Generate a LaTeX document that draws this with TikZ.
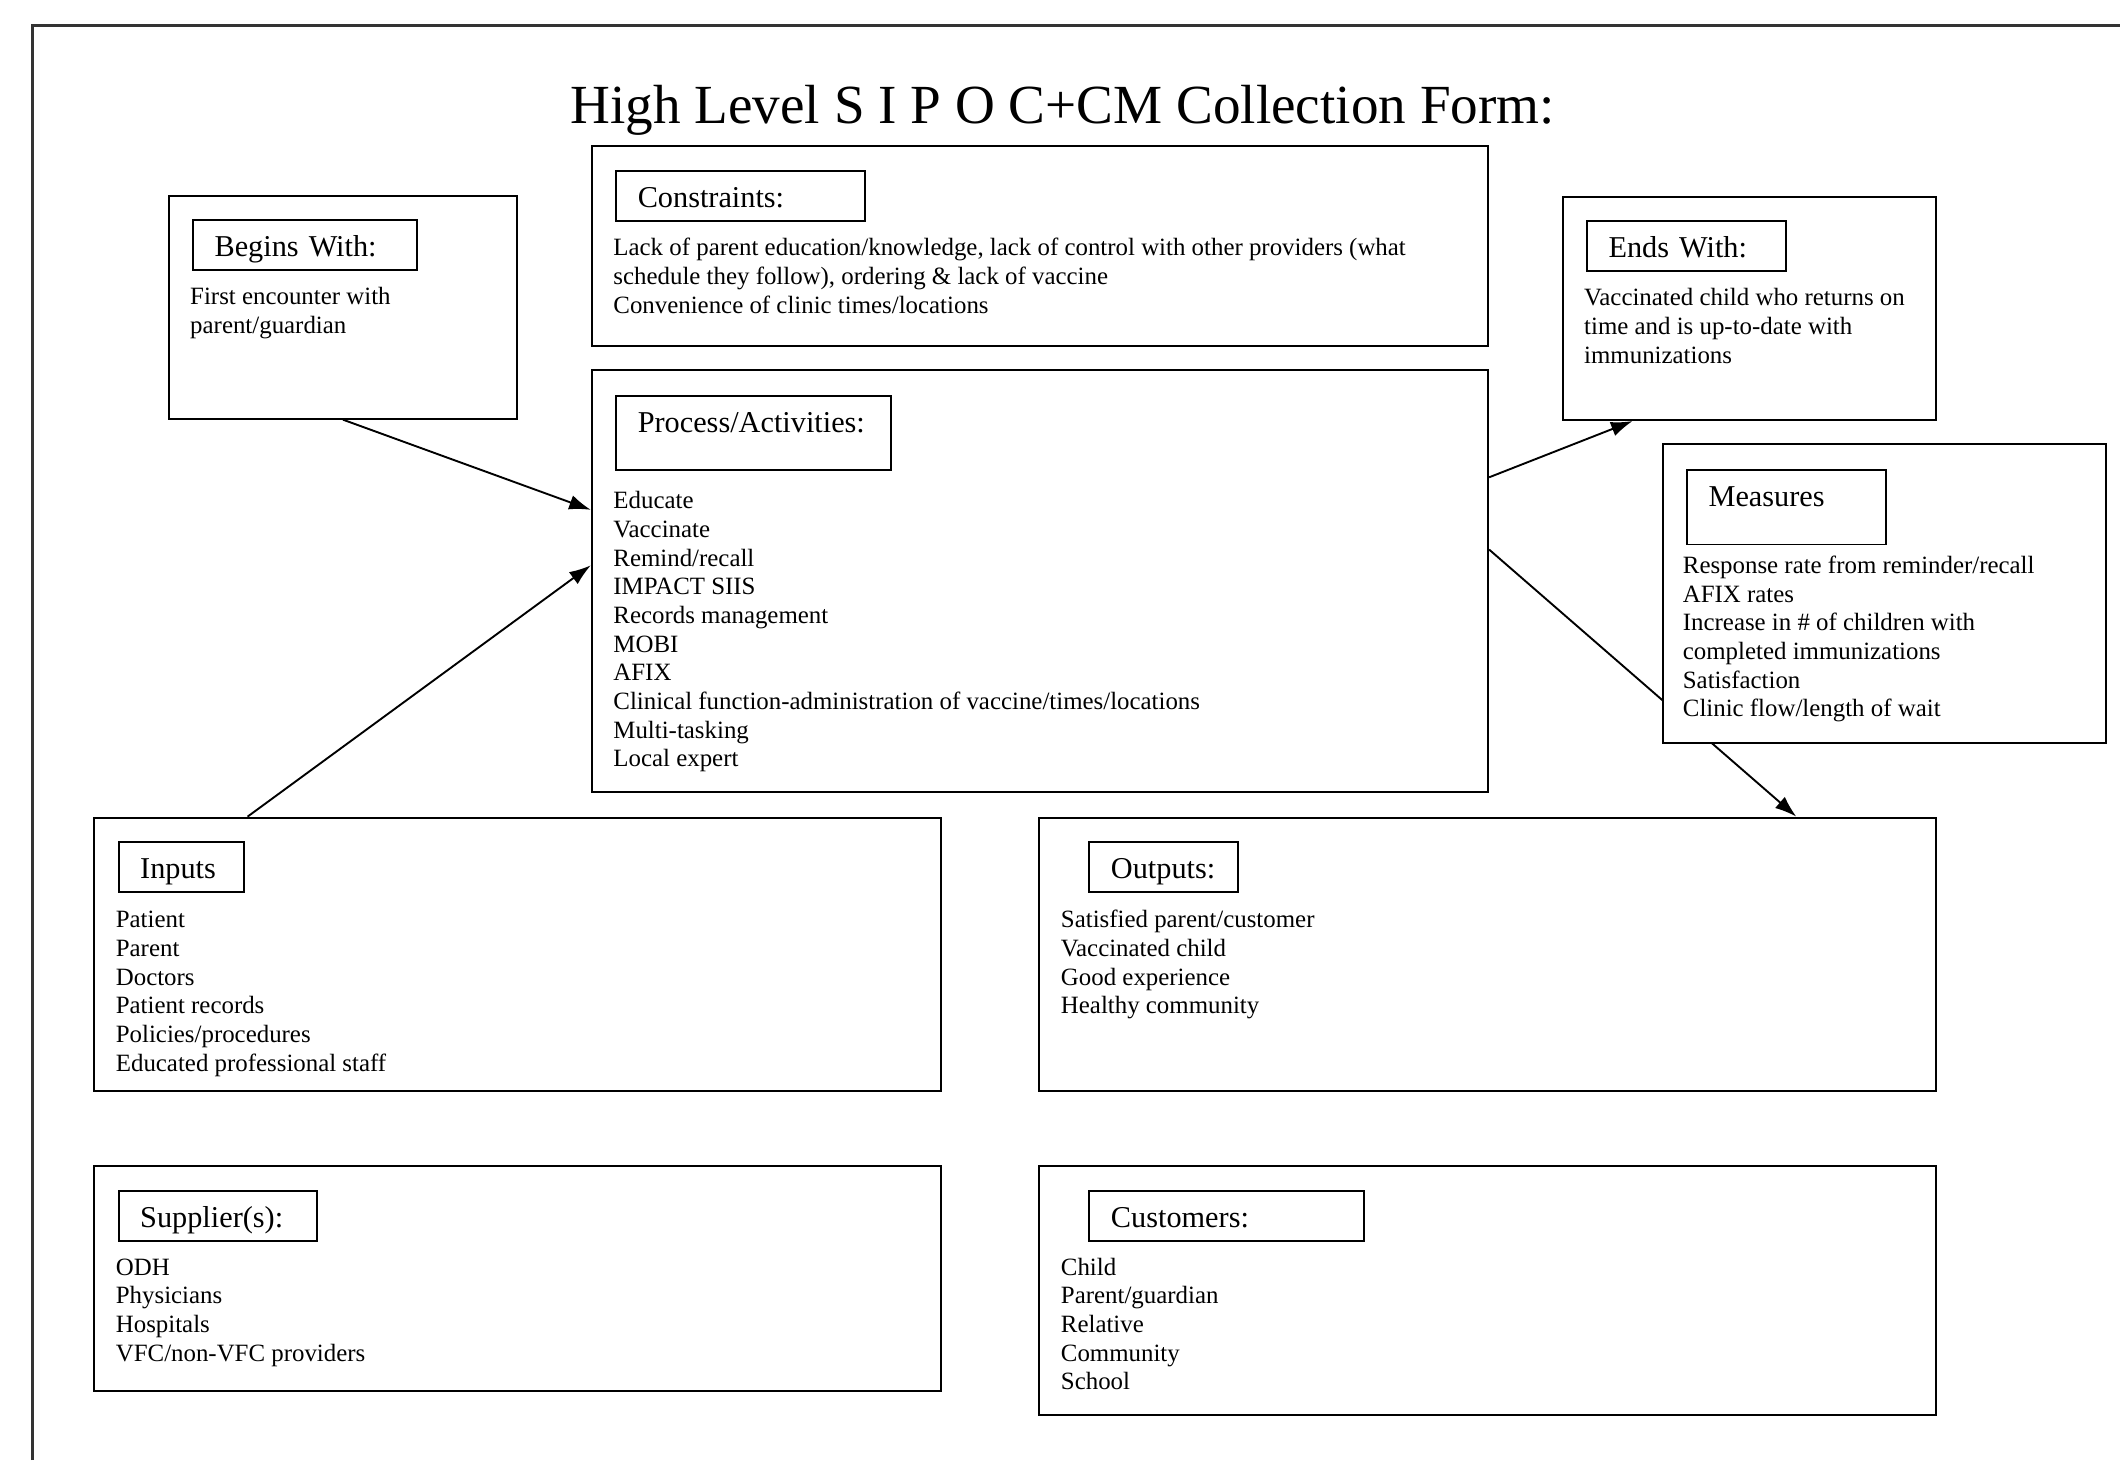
\documentclass[tikz,border=0pt]{standalone}
\usepackage{fontspec}
\setmainfont{Liberation Serif}
\usetikzlibrary{positioning,arrows.meta}

\begin{document}
\begin{tikzpicture}[x=1pt,y=-1pt,->,>={Latex[length=16pt,width=11pt]},line width=1.4pt,
    panel node/.style={draw,fill=white,rectangle,inner sep=0pt,anchor=north west},
    tag node/.style={draw,rectangle,inner xsep=16pt,inner ysep=0pt,text height=27pt,text depth=10pt,align=left,font=\fontsize{22.4}{26}\selectfont},
    list node/.style={inner sep=0pt,align=left,font=\fontsize{18.4}{21.2}\selectfont}]
    \useasboundingbox (0,0) rectangle (1568,1080);
    \draw[-,line width=2pt,black!80] (24,1080) -- (24,19) -- (1568,19);

    \node[font=\fontsize{40.8}{48}\selectfont,anchor=base] (title) at (786,91.5) {High Level S I P O C+CM Collection Form:};

    % begins with
    \node[panel node,minimum width=258pt,minimum height=165pt] (begins) at (124,144) {};
    \node[tag node,text width=134pt,below right=18pt and 18pt of begins.north west] (beginstag) {Begins With:};
    \node[list node,below right=65.7pt and 16pt of begins.north west] (beginslist) {\strut First encounter with\\parent/guardian};

    % constraints
    \node[panel node,minimum width=663pt,minimum height=148pt] (constraints) at (437,107) {};
    \node[tag node,text width=152pt,below right=19pt and 18pt of constraints.north west] (constraintstag) {Constraints:};
    \node[list node,below right=66.7pt and 16pt of constraints.north west] (constraintslist) {\strut Lack of parent education/knowledge, lack of control with other providers (what\\schedule they follow), ordering \& lack of vaccine\\Convenience of clinic times/locations};

    % process
    \node[panel node,minimum width=663pt,minimum height=312pt] (process) at (437,273) {};
    \node[tag node,text width=171pt,text depth=28pt,below right=19pt and 18pt of process.north west] (processtag) {Process/Activities:};
    \node[list node,below right=87.7pt and 16pt of process.north west] (processlist) {\strut Educate\\Vaccinate\\Remind/recall\\IMPACT SIIS\\Records management\\MOBI\\AFIX\\Clinical function-administration of vaccine/times/locations\\Multi-tasking\\Local expert};

    % ends with
    \node[panel node,minimum width=276pt,minimum height=165pt] (ends) at (1155,145) {};
    \node[tag node,text width=115pt,below right=18pt and 18pt of ends.north west] (endstag) {Ends With:};
    \node[list node,below right=65.7pt and 16pt of ends.north west] (endslist) {\strut Vaccinated child who returns on\\time and is up-to-date with\\immunizations};

    % inputs
    \node[panel node,minimum width=626pt,minimum height=202pt] (inputs) at (69,604) {};
    \node[tag node,text width=61pt,below right=18pt and 18pt of inputs.north west] (inputstag) {Inputs};
    \node[list node,below right=66.7pt and 16pt of inputs.north west] (inputslist) {\strut Patient\\Parent\\Doctors\\Patient records\\Policies/procedures\\Educated professional staff};

    % outputs
    \node[panel node,minimum width=663pt,minimum height=202pt] (outputs) at (768,604) {};
    \node[tag node,text width=78pt,below right=18pt and 37pt of outputs.north west] (outputstag) {Outputs:};
    \node[list node,below right=66.7pt and 16pt of outputs.north west] (outputslist) {\strut Satisfied parent/customer\\Vaccinated child\\Good experience\\Healthy community};

    % suppliers
    \node[panel node,minimum width=626pt,minimum height=166pt] (suppliers) at (69,862) {};
    \node[tag node,text width=115pt,below right=18pt and 18pt of suppliers.north west] (supplierstag) {Supplier(s):};
    \node[list node,below right=65.7pt and 16pt of suppliers.north west] (supplierslist) {\strut ODH\\Physicians\\Hospitals\\VFC/non-VFC providers};

    % customers
    \node[panel node,minimum width=663pt,minimum height=184pt] (customers) at (768,862) {};
    \node[tag node,text width=171pt,below right=18pt and 37pt of customers.north west] (customerstag) {Customers:};
    \node[list node,below right=65.7pt and 16pt of customers.north west] (customerslist) {\strut Child\\Parent/guardian\\Relative\\Community\\School};

    \path
        (begins.south) edge (process.171.9)
        (inputs.153.4) edge (process.178.4)
        (process.13.9) edge (ends.224.1)
        (process.4.66) edge (outputs.24.6)
    ;

    % measures goes over the arrow to outputs
    \node[panel node,minimum width=328pt,minimum height=221pt] (measures) at (1229,328) {};
    \node[tag node,text width=115pt,text depth=28pt,below right=19pt and 18pt of measures.north west] (measurestag) {Measures};
    \node[list node,below right=80.7pt and 15pt of measures.north west] (measureslist) {\strut Response rate from reminder/recall\\AFIX rates\\Increase in \# of children with\\completed immunizations\\Satisfaction\\Clinic flow/length of wait};
\end{tikzpicture}
\end{document}
